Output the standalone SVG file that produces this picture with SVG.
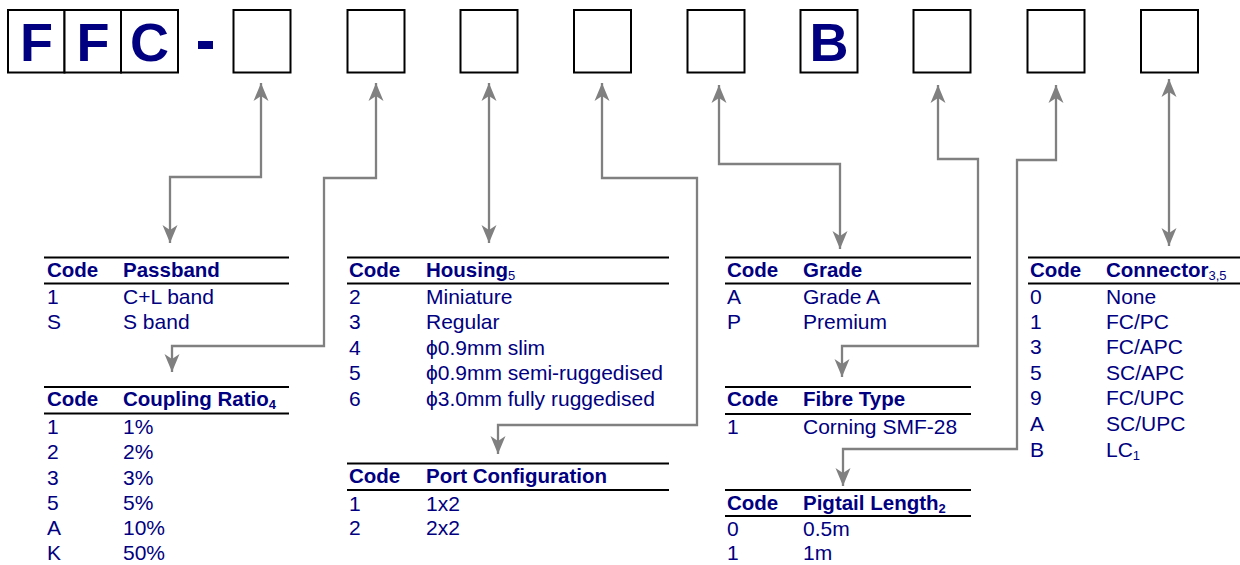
<svg xmlns="http://www.w3.org/2000/svg" width="1240" height="565" viewBox="0 0 1240 565">
<defs>
<style>
.box{fill:#fff;stroke:#000;stroke-width:2}
.big{font-family:"Liberation Sans",Arial,sans-serif;font-weight:bold;font-size:54px;fill:#000080;text-anchor:middle}
.rule{stroke:#000;stroke-width:2.2}
.h{font-family:"Liberation Sans",Arial,sans-serif;font-weight:bold;font-size:20.5px;fill:#000080}
.t{font-family:"Liberation Sans",Arial,sans-serif;font-size:21px;fill:#000080}
.sub{font-size:13px;font-weight:normal}
.subb{font-size:13px;font-weight:bold}
.con{fill:none;stroke:#808080;stroke-width:2.3;marker-start:url(#ah);marker-end:url(#ah)}
</style>
<marker id="ah" viewBox="-19 -9 20 18" refX="0" refY="0" markerWidth="20" markerHeight="18" markerUnits="userSpaceOnUse" orient="auto-start-reverse">
<path d="M0,0 L-18,-7.5 L-13,0 L-18,7.5 Z" fill="#808080"/>
</marker>
</defs>
<rect width="1240" height="565" fill="#fff"/>

<g id="code-boxes">
<g id="box-F1"><rect class="box" x="8" y="10" width="56.5" height="62.5"/><text class="big" x="36.5" y="61">F</text></g>
<g id="box-F2"><rect class="box" x="64.5" y="10" width="56.5" height="62.5"/><text class="big" x="93" y="61">F</text></g>
<g id="box-C"><rect class="box" x="121" y="10" width="57" height="62.5"/><text class="big" x="149.5" y="61">C</text></g>
<g id="dash"><rect x="198" y="41" width="15" height="8" fill="#000080"/></g>
<g id="box-1"><rect class="box" x="233.5" y="10" width="57" height="62.5"/></g>
<g id="box-2"><rect class="box" x="347.5" y="10" width="57" height="62.5"/></g>
<g id="box-3"><rect class="box" x="460.5" y="10" width="57" height="62.5"/></g>
<g id="box-4"><rect class="box" x="574" y="10" width="57" height="62.5"/></g>
<g id="box-5"><rect class="box" x="687.5" y="10" width="57" height="62.5"/></g>
<g id="box-B"><rect class="box" x="800.5" y="10" width="57" height="62.5"/><text class="big" x="829" y="61">B</text></g>
<g id="box-7"><rect class="box" x="913.5" y="10" width="57" height="62.5"/></g>
<g id="box-8"><rect class="box" x="1027.5" y="10" width="57" height="62.5"/></g>
<g id="box-9"><rect class="box" x="1141" y="10" width="57" height="62.5"/></g>
</g>

<g id="connectors">
<path class="con" d="M261,83 V177 H170 V243"/>
<path class="con" d="M376,83 V178 H324 V346 H172 V372"/>
<path class="con" d="M489,83 V243"/>
<path class="con" d="M602,83 V178 H697 V425 H498 V454"/>
<path class="con" d="M719,85 V164 H840 V249"/>
<path class="con" d="M938,85 V159 H978 V346 H842 V377"/>
<path class="con" d="M1056,85 V160 H1017 V449 H843 V486"/>
<path class="con" d="M1169,79 V246"/>
</g>

<g id="tbl-passband">
<line class="rule" x1="44" y1="257.5" x2="289" y2="257.5"/>
<line class="rule" x1="44" y1="283.5" x2="289" y2="283.5"/>
<text class="h" x="47" y="277">Code</text><text class="h" x="123" y="277">Passband</text>
<text class="t" x="47" y="304">1</text><text class="t" x="123" y="304">C+L band</text>
<text class="t" x="47" y="329">S</text><text class="t" x="123" y="329">S band</text>
</g>

<g id="tbl-coupling">
<line class="rule" x1="44" y1="387" x2="289" y2="387"/>
<line class="rule" x1="44" y1="413.5" x2="289" y2="413.5"/>
<text class="h" x="47" y="406">Code</text><text class="h" x="123" y="406">Coupling Ratio<tspan class="subb" dy="3">4</tspan></text>
<text class="t" x="47" y="434">1</text><text class="t" x="123" y="434">1%</text>
<text class="t" x="47" y="459">2</text><text class="t" x="123" y="459">2%</text>
<text class="t" x="47" y="484.5">3</text><text class="t" x="123" y="484.5">3%</text>
<text class="t" x="47" y="510">5</text><text class="t" x="123" y="510">5%</text>
<text class="t" x="47" y="535">A</text><text class="t" x="123" y="535">10%</text>
<text class="t" x="47" y="560">K</text><text class="t" x="123" y="560">50%</text>
</g>

<g id="tbl-housing">
<line class="rule" x1="347" y1="257.5" x2="669" y2="257.5"/>
<line class="rule" x1="347" y1="283.5" x2="669" y2="283.5"/>
<text class="h" x="349" y="277">Code</text><text class="h" x="426" y="277">Housing<tspan class="sub" dy="3">5</tspan></text>
<text class="t" x="349" y="304">2</text><text class="t" x="426" y="304">Miniature</text>
<text class="t" x="349" y="329">3</text><text class="t" x="426" y="329">Regular</text>
<text class="t" x="349" y="354.5">4</text><text class="t" x="426" y="354.5">ϕ0.9mm slim</text>
<text class="t" x="349" y="380">5</text><text class="t" x="426" y="380">ϕ0.9mm semi-ruggedised</text>
<text class="t" x="349" y="405.5">6</text><text class="t" x="426" y="405.5">ϕ3.0mm fully ruggedised</text>
</g>

<g id="tbl-port">
<line class="rule" x1="347" y1="463.5" x2="669" y2="463.5"/>
<line class="rule" x1="347" y1="490" x2="669" y2="490"/>
<text class="h" x="349" y="483">Code</text><text class="h" x="426" y="483">Port Configuration</text>
<text class="t" x="349" y="510.5">1</text><text class="t" x="426" y="510.5">1x2</text>
<text class="t" x="349" y="535">2</text><text class="t" x="426" y="535">2x2</text>
</g>

<g id="tbl-grade">
<line class="rule" x1="725" y1="257.5" x2="971" y2="257.5"/>
<line class="rule" x1="725" y1="283.5" x2="971" y2="283.5"/>
<text class="h" x="727" y="277">Code</text><text class="h" x="803" y="277">Grade</text>
<text class="t" x="727" y="304">A</text><text class="t" x="803" y="304">Grade A</text>
<text class="t" x="727" y="329">P</text><text class="t" x="803" y="329">Premium</text>
</g>

<g id="tbl-fibre">
<line class="rule" x1="725" y1="387" x2="971" y2="387"/>
<line class="rule" x1="725" y1="414" x2="971" y2="414"/>
<text class="h" x="727" y="406">Code</text><text class="h" x="803" y="406">Fibre Type</text>
<text class="t" x="727" y="434">1</text><text class="t" x="803" y="434">Corning SMF-28</text>
</g>

<g id="tbl-pigtail">
<line class="rule" x1="725" y1="490" x2="971" y2="490"/>
<line class="rule" x1="725" y1="516" x2="971" y2="516"/>
<text class="h" x="727" y="510">Code</text><text class="h" x="803" y="510">Pigtail Length<tspan class="subb" dy="3">2</tspan></text>
<text class="t" x="727" y="536">0</text><text class="t" x="803" y="536">0.5m</text>
<text class="t" x="727" y="560">1</text><text class="t" x="803" y="560">1m</text>
</g>

<g id="tbl-connector">
<line class="rule" x1="1028" y1="257.5" x2="1240" y2="257.5"/>
<line class="rule" x1="1028" y1="283.5" x2="1240" y2="283.5"/>
<text class="h" x="1030" y="277">Code</text><text class="h" x="1106" y="277">Connector<tspan class="sub" dy="3">3,5</tspan></text>
<text class="t" x="1030" y="304">0</text><text class="t" x="1106" y="304">None</text>
<text class="t" x="1030" y="329">1</text><text class="t" x="1106" y="329">FC/PC</text>
<text class="t" x="1030" y="354">3</text><text class="t" x="1106" y="354">FC/APC</text>
<text class="t" x="1030" y="380">5</text><text class="t" x="1106" y="380">SC/APC</text>
<text class="t" x="1030" y="405">9</text><text class="t" x="1106" y="405">FC/UPC</text>
<text class="t" x="1030" y="431">A</text><text class="t" x="1106" y="431">SC/UPC</text>
<text class="t" x="1030" y="456.5">B</text><text class="t" x="1106" y="456.5">LC<tspan class="sub" dy="3">1</tspan></text>
</g>
</svg>
